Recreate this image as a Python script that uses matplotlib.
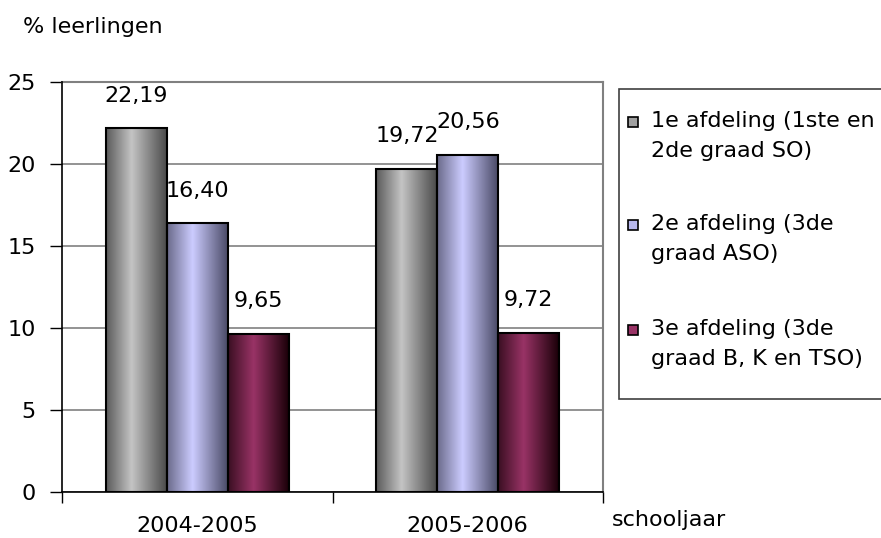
import matplotlib
matplotlib.use("Agg")
import matplotlib.pyplot as plt
import numpy as np
from matplotlib.colors import LinearSegmentedColormap
from matplotlib.patches import Rectangle

# ---- data ----
years = ['2004-2005', '2005-2006']
series_labels = ['1e afdeling (1ste en\n2de graad SO)',
                 '2e afdeling (3de\ngraad ASO)',
                 '3e afdeling (3de\ngraad B, K en TSO)']
afdeling1 = [22.19, 19.72]
afdeling2 = [16.40, 20.56]
afdeling3 = [9.65, 9.72]
yticks = [0, 5, 10, 15, 20, 25]
y_label = '% leerlingen'
x_label = 'schooljaar'

series = [afdeling1, afdeling2, afdeling3]
# gradients: (left edge, highlight, right edge)
grads = [('#5a5a5a', '#c4c4c4', '#4a4a4a'),
         ('#6a6a8a', '#ccccff', '#4a4a66'),
         ('#3a0f22', '#993366', '#1a0008')]
mid_colors = ['#a0a0a0', '#b8b8ee', '#993366']

plt.rcParams['font.family'] = ['DejaVu Sans']
FS = 16

W, H = 881, 538
fig = plt.figure(figsize=(W / 100, H / 100), dpi=100)
ax = fig.add_axes([62 / W, 1 - 492 / H, (603 - 62) / W, (492 - 82) / H])

x = np.arange(len(years))
bw = 0.225
offsets = [-bw, 0, bw]

for vals, off, g in zip(series, offsets, grads):
    cmap = LinearSegmentedColormap.from_list('g', [(0, g[0]), (0.42, g[1]), (1, g[2])])
    grad = np.linspace(0, 1, 256).reshape(1, -1)
    bars = ax.bar(x + off, vals, width=bw, facecolor='none', edgecolor='black',
                  linewidth=1.5, zorder=4)
    for b, v in zip(bars, vals):
        x0 = b.get_x()
        ax.imshow(grad, cmap=cmap, aspect='auto', extent=(x0, x0 + bw, 0, v),
                  zorder=3, interpolation='bilinear')
        ax.annotate(f"{v:.2f}".replace('.', ','), (x0 + bw / 2, v),
                    xytext=(0, 19), textcoords='offset points',
                    ha='center', va='baseline', fontsize=FS, zorder=5)

ax.set_xlim(-0.5, len(years) - 0.5)
ax.set_ylim(0, 25)

# axes styling
ax.set_yticks(yticks)
ax.tick_params(axis='y', direction='out', length=9, width=1, pad=10, labelsize=FS)
ax.set_xticks(x)
ax.set_xticklabels(years, fontsize=FS)
ax.tick_params(axis='x', which='major', length=0, pad=17)
ax.set_xticks(np.arange(-0.5, len(years)), minor=True)
ax.tick_params(axis='x', which='minor', direction='out', length=8, width=1)
ax.yaxis.grid(True, color='#808080', linewidth=1.2)
ax.set_axisbelow(True)
for s in ['top', 'right']:
    ax.spines[s].set_color('#808080')
    ax.spines[s].set_linewidth(1.5)
for s in ['left', 'bottom']:
    ax.spines[s].set_color('black')
    ax.spines[s].set_linewidth(1.2)
    ax.spines[s].set_zorder(6)

fig.text(23 / W, 1 - 27 / H, y_label, fontsize=FS, ha='left', va='center')
fig.text(612 / W, 1 - 520 / H, x_label, fontsize=FS, ha='left', va='center')

# legend (manual)
fig.patches.append(Rectangle((619 / W, 1 - 399 / H), (W + 5 - 619) / W, (399 - 89) / H,
                             transform=fig.transFigure, facecolor='white',
                             edgecolor='#404040', linewidth=1.2))
first_line_y = [122, 225, 330]
for lab, yy, col in zip(series_labels, first_line_y, mid_colors):
    fig.patches.append(Rectangle((628 / W, 1 - (yy + 5) / H), 10 / W, 10 / H,
                                 transform=fig.transFigure, facecolor=col,
                                 edgecolor='black', linewidth=1.2))
    fig.text(651 / W, 1 - (yy - 11) / H, lab, fontsize=FS, ha='left', va='top',
             linespacing=1.6)

fig.savefig('out.png', dpi=100)
